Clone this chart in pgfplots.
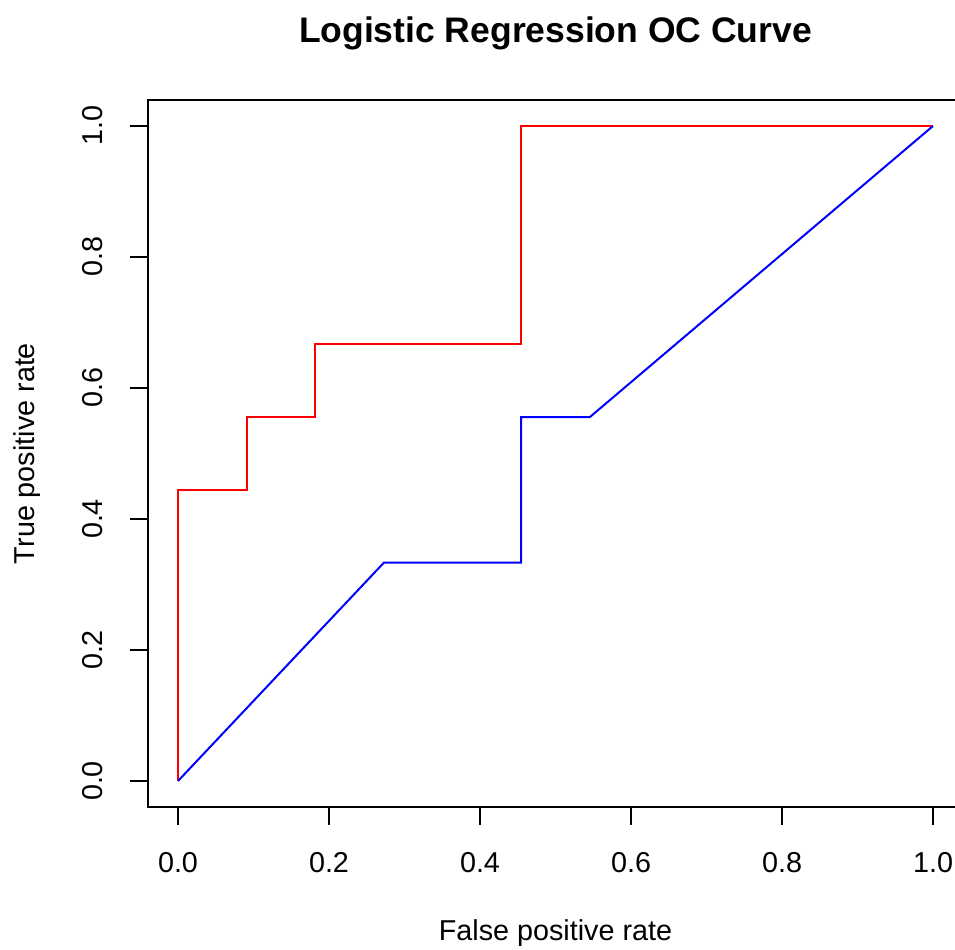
\documentclass[border=0pt]{standalone}
\usepackage{fontspec}
\setmainfont{Liberation Sans}
\usepackage{pgfplots}
\pgfplotsset{compat=1.18}
\begin{document}
\begin{tikzpicture}
\path[use as bounding box] (0,0) rectangle (382pt,379.6pt);
\begin{axis}[
  at={(59.12pt,56.72pt)}, anchor=south west,
  scale only axis, width=326.16pt, height=282.96pt,
  xmin=-0.04, xmax=1.04, ymin=-0.04, ymax=1.04,
  xtick={0,0.2,0.4,0.6,0.8,1}, ytick={0,0.2,0.4,0.6,0.8,1},
  minor tick num=0,
  tick align=outside, xtick pos=bottom, ytick pos=left,
  major tick length=7pt,
  major tick style={black, line width=0.8pt},
  axis line style={black, line width=0.8pt},
  /pgf/number format/.cd, fixed, fixed zerofill, precision=1, assume math mode=true,
  /pgfplots/.cd,
  tick label style={font=\fontsize{11.5}{13}\selectfont, inner sep=0pt},
  xticklabel style={anchor=base, yshift=-19pt},
  yticklabel style={xshift=-11.2pt, rotate=90, anchor=base},
  xlabel={False positive rate}, ylabel={True positive rate},
  label style={font=\fontsize{11.5}{13}\selectfont, inner sep=0pt},
  xlabel style={at={(axis description cs:0.5,-0.1890)}, anchor=base},
  ylabel style={at={(axis description cs:-0.13834,0.5)}, anchor=base},
  title={Logistic Regression OC Curve},
  title style={font=\bfseries\fontsize{14.2}{16}\selectfont, inner sep=0pt, at={(axis description cs:0.5,1.0591)}, anchor=base},
]
\addplot[red, line width=0.8pt, mark=none] coordinates {
  (0,0) (0,0.4444) (0.0909,0.4444) (0.0909,0.5556) (0.1818,0.5556)
  (0.1818,0.6667) (0.4545,0.6667) (0.4545,1) (1,1)
};
\addplot[blue, line width=0.8pt, mark=none] coordinates {
  (0,0) (0.2727,0.3333) (0.4545,0.3333) (0.4545,0.5556) (0.5455,0.5556) (1,1)
};
\end{axis}
\end{tikzpicture}
\end{document}
